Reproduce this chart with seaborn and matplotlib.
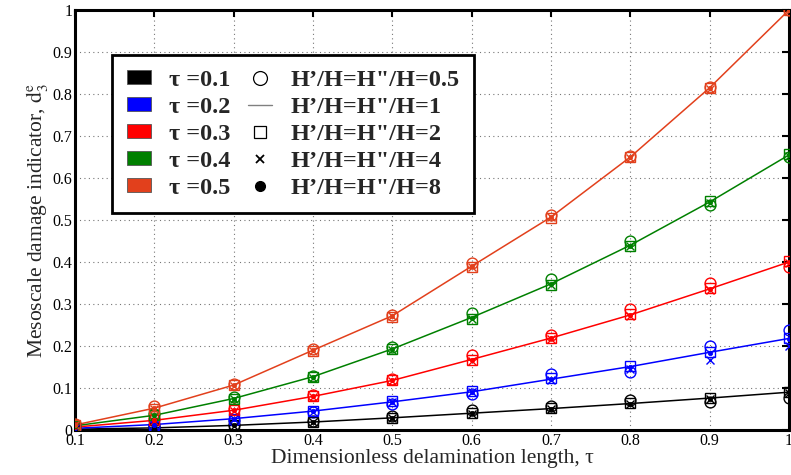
import numpy as np
import pandas as pd
import matplotlib
matplotlib.use("Agg")
import matplotlib.pyplot as plt
import seaborn as sns
from matplotlib.patches import Patch
from matplotlib.lines import Line2D

# ---------------- data ----------------
tau = [0.1, 0.2, 0.3, 0.4, 0.5, 0.6, 0.7, 0.8, 0.9, 1.0]
series_labels = ["τ =0.1", "τ =0.2", "τ =0.3", "τ =0.4", "τ =0.5"]
h_labels = ["H’/H=H\"/H=0.5", "H’/H=H\"/H=1", "H’/H=H\"/H=2", "H’/H=H\"/H=4", "H’/H=H\"/H=8"]

# tau = 0.1 (black)
k_h05 = [0.003, 0.006, 0.013, 0.022, 0.033, 0.048, 0.057, 0.071, 0.067, 0.077]
k_h1  = [0.002, 0.005, 0.011, 0.019, 0.029, 0.040, 0.051, 0.063, 0.076, 0.090]
k_h2  = [0.002, 0.005, 0.011, 0.019, 0.029, 0.041, 0.052, 0.064, 0.077, 0.091]
k_h4  = [0.002, 0.005, 0.010, 0.018, 0.028, 0.039, 0.050, 0.061, 0.074, 0.089]
k_h8  = [0.002, 0.005, 0.011, 0.019, 0.029, 0.040, 0.051, 0.062, 0.075, 0.090]
# tau = 0.2 (blue)
b_h05 = [0.004, 0.010, 0.024, 0.042, 0.062, 0.086, 0.133, 0.138, 0.200, 0.238]
b_h1  = [0.004, 0.013, 0.027, 0.045, 0.067, 0.091, 0.121, 0.151, 0.185, 0.218]
b_h2  = [0.004, 0.013, 0.027, 0.046, 0.068, 0.093, 0.123, 0.152, 0.186, 0.220]
b_h4  = [0.004, 0.012, 0.026, 0.044, 0.066, 0.090, 0.120, 0.146, 0.167, 0.200]
b_h8  = [0.004, 0.013, 0.027, 0.045, 0.067, 0.091, 0.121, 0.150, 0.184, 0.217]
# tau = 0.3 (red)
r_h05 = [0.008, 0.026, 0.050, 0.084, 0.122, 0.178, 0.226, 0.288, 0.350, 0.388]
r_h1  = [0.007, 0.023, 0.047, 0.080, 0.118, 0.168, 0.219, 0.274, 0.336, 0.400]
r_h2  = [0.007, 0.023, 0.047, 0.080, 0.119, 0.167, 0.220, 0.276, 0.338, 0.402]
r_h4  = [0.007, 0.022, 0.046, 0.079, 0.117, 0.165, 0.216, 0.272, 0.334, 0.398]
r_h8  = [0.007, 0.023, 0.047, 0.080, 0.118, 0.167, 0.218, 0.274, 0.336, 0.400]
# tau = 0.4 (green)
g_h05 = [0.011, 0.038, 0.078, 0.128, 0.198, 0.278, 0.360, 0.450, 0.536, 0.650]
g_h1  = [0.010, 0.035, 0.075, 0.127, 0.193, 0.268, 0.348, 0.440, 0.543, 0.655]
g_h2  = [0.010, 0.035, 0.073, 0.126, 0.192, 0.264, 0.346, 0.438, 0.545, 0.657]
g_h4  = [0.010, 0.034, 0.074, 0.125, 0.191, 0.265, 0.345, 0.437, 0.541, 0.653]
g_h8  = [0.010, 0.035, 0.075, 0.127, 0.193, 0.267, 0.347, 0.439, 0.542, 0.655]
# tau = 0.5 (orange-red)
o_h05 = [0.014, 0.056, 0.109, 0.193, 0.275, 0.397, 0.512, 0.652, 0.817, 1.000]
o_h1  = [0.012, 0.052, 0.107, 0.190, 0.272, 0.390, 0.507, 0.650, 0.815, 1.000]
o_h2  = [0.012, 0.050, 0.106, 0.188, 0.270, 0.388, 0.505, 0.649, 0.814, 0.999]
o_h4  = [0.012, 0.051, 0.105, 0.189, 0.271, 0.389, 0.506, 0.648, 0.813, 0.998]
o_h8  = [0.012, 0.052, 0.107, 0.190, 0.272, 0.390, 0.507, 0.650, 0.815, 1.000]

colors = ["#000000", "#0000ff", "#ff0000", "#008000", "#e2401c"]

table = {
    series_labels[0]: [k_h05, k_h1, k_h2, k_h4, k_h8],
    series_labels[1]: [b_h05, b_h1, b_h2, b_h4, b_h8],
    series_labels[2]: [r_h05, r_h1, r_h2, r_h4, r_h8],
    series_labels[3]: [g_h05, g_h1, g_h2, g_h4, g_h8],
    series_labels[4]: [o_h05, o_h1, o_h2, o_h4, o_h8],
}
rows = []
for s, lists in table.items():
    for h, vals in zip(h_labels, lists):
        for x, y in zip(tau, vals):
            rows.append({"tau": x, "d": y, "series": s, "H": h})
df = pd.DataFrame(rows)
palette = dict(zip(series_labels, colors))

# ---------------- figure ----------------
sns.set_style("white")
plt.rcParams["font.family"] = ["Liberation Serif", "DejaVu Serif"]
plt.rcParams["mathtext.fontset"] = "stix"

fig = plt.figure(figsize=(7.91, 4.75), dpi=100)
ax = fig.add_axes([75 / 791, 1 - 430 / 475, 714 / 791, 420 / 475])

common = dict(x="tau", y="d", hue="series", palette=palette, legend=False,
              estimator=None, sort=False, ax=ax)


def draw(sub, filled=False, **kw):
    n0 = len(ax.lines)
    sns.lineplot(data=sub, **common, **kw)
    for ln in ax.lines[n0:]:
        c = ln.get_color()
        ln.set_markeredgecolor(c)
        ln.set_markerfacecolor(c if filled else "none")


# lines: H'/H = 1
draw(df[df["H"] == h_labels[1]], linewidth=1.1, zorder=3)
# markers
draw(df[df["H"] == h_labels[0]], marker="o", markersize=7.8,
     markeredgewidth=1.0, linestyle="", zorder=4)
draw(df[df["H"] == h_labels[2]], marker="s", markersize=6.5,
     markeredgewidth=1.0, linestyle="", zorder=4)
draw(df[df["H"] == h_labels[3]], marker="x", markersize=5.5,
     markeredgewidth=1.0, linestyle="", zorder=4)
draw(df[df["H"] == h_labels[4]], filled=True, marker="o", markersize=3.2,
     markeredgewidth=0.5, linestyle="", zorder=5)

ax.set_xlim(0.1, 1.0)
ax.set_ylim(0, 1.0)
xt = [0.1, 0.2, 0.3, 0.4, 0.5, 0.6, 0.7, 0.8, 0.9, 1.0]
yt = [0, 0.1, 0.2, 0.3, 0.4, 0.5, 0.6, 0.7, 0.8, 0.9, 1.0]
ax.set_xticks(xt)
ax.set_xticklabels(["0.1", "0.2", "0.3", "0.4", "0.5", "0.6", "0.7", "0.8", "0.9", "1"])
ax.set_yticks(yt)
ax.set_yticklabels(["0", "0.1", "0.2", "0.3", "0.4", "0.5", "0.6", "0.7", "0.8", "0.9", "1"])
ax.tick_params(direction="in", length=5, width=1.5, top=True, right=True,
               labelsize=11.5, colors="black", pad=2)
ax.grid(True, ls=(0, (1, 3)), color="#777777", lw=0.8)
for sp in ax.spines.values():
    sp.set_linewidth(2.2)
    sp.set_color("black")
    sp.set_visible(True)

ax.set_xlabel("Dimensionless delamination length, τ", fontsize=15.5, labelpad=0)
ax.set_ylabel("Mesoscale damage indicator, $\\mathrm{d}_3^{\\mathrm{e}}$", fontsize=15.5, labelpad=2)

# ---------------- legend ----------------
patch_handles = [Patch(facecolor=c, edgecolor="#555555", lw=0.6) for c in colors]
mk_handles = [
    Line2D([], [], color="black", marker="o", mfc="none", ls="", ms=10, mew=0.9),
    Line2D([], [], color="gray", lw=1.0),
    Line2D([], [], color="black", marker="s", mfc="none", ls="", ms=9, mew=0.9),
    Line2D([], [], color="black", marker="x", ls="", ms=6, mew=1.3),
    Line2D([], [], color="black", marker="o", ls="", ms=7),
]
leg = ax.legend(patch_handles + mk_handles, series_labels + h_labels, ncol=2,
                loc="upper left", bbox_to_anchor=((112 - 75) / 714, (430 - 55) / 420),
                borderaxespad=0, frameon=True, fancybox=False, framealpha=1,
                edgecolor="black", prop={"family": "Liberation Serif", "weight": "bold", "size": 17.5},
                labelspacing=0.25, handlelength=1.0, handleheight=0.5,
                handletextpad=0.75, columnspacing=0.7, borderpad=0.6)
leg.get_frame().set_linewidth(2.0)
leg.set_zorder(10)

fig.savefig("out.png", dpi=100)
